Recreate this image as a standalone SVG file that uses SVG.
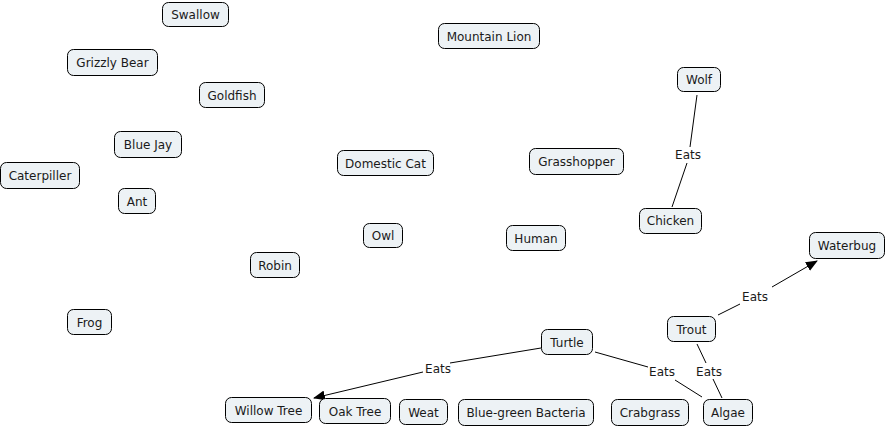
<svg xmlns="http://www.w3.org/2000/svg" width="886" height="429" viewBox="0 0 886 429">
<style>
.n rect{fill:#edf2f5;stroke:#000;stroke-width:1}
text{font-family:"DejaVu Sans",Verdana,sans-serif;font-size:12px;fill:#1a1a1a;text-anchor:middle}
.c line{stroke:#000;stroke-width:1}
</style>
<defs>
<marker id="ah" markerUnits="userSpaceOnUse" markerWidth="12" markerHeight="10" refX="11" refY="5" orient="auto">
<path d="M0,0 L12,5 L0,10 Z" fill="#000"/>
</marker>
</defs>
<rect width="886" height="429" fill="#fff"/>
<g id="connectors" class="c">
<line x1="697" y1="95" x2="690" y2="147"/>
<line x1="687" y1="163" x2="672" y2="207"/>
<text x="688" y="159">Eats</text>
<line x1="718" y1="315" x2="740" y2="304"/>
<line x1="772" y1="287" x2="817" y2="261" marker-end="url(#ah)"/>
<text x="755" y="301">Eats</text>
<line x1="595" y1="352" x2="648" y2="367"/>
<line x1="675" y1="380" x2="702" y2="397"/>
<text x="662" y="376">Eats</text>
<line x1="697" y1="344" x2="706" y2="363"/>
<line x1="713" y1="379" x2="722" y2="398"/>
<text x="709" y="376">Eats</text>
<line x1="541" y1="348" x2="450" y2="363"/>
<line x1="423" y1="372" x2="314" y2="398" marker-end="url(#ah)"/>
<text x="438" y="373">Eats</text>
</g>
<g id="swallow" class="n"><rect x="162.5" y="2.5" width="66" height="24" rx="6"/><text x="195.5" y="19">Swallow</text></g>
<g id="grizzly-bear" class="n"><rect x="67.5" y="49.5" width="90" height="26" rx="6"/><text x="112.5" y="67">Grizzly Bear</text></g>
<g id="goldfish" class="n"><rect x="199.5" y="82.5" width="65" height="25" rx="6"/><text x="232" y="99.5">Goldfish</text></g>
<g id="blue-jay" class="n"><rect x="114.5" y="131.5" width="67" height="26" rx="6"/><text x="148" y="149">Blue Jay</text></g>
<g id="caterpiller" class="n"><rect x="0.5" y="162.5" width="79" height="26" rx="6"/><text x="40" y="180">Caterpiller</text></g>
<g id="ant" class="n"><rect x="118.5" y="188.5" width="37" height="25" rx="6"/><text x="137" y="206">Ant</text></g>
<g id="mountain-lion" class="n"><rect x="438.5" y="23.5" width="101" height="25" rx="6"/><text x="489" y="41">Mountain Lion</text></g>
<g id="wolf" class="n"><rect x="677.5" y="67.5" width="43" height="24" rx="6"/><text x="699" y="84">Wolf</text></g>
<g id="domestic-cat" class="n"><rect x="337.5" y="150.5" width="96" height="25" rx="6"/><text x="385.5" y="168">Domestic Cat</text></g>
<g id="grasshopper" class="n"><rect x="529.5" y="148.5" width="94" height="26" rx="6"/><text x="576.5" y="166">Grasshopper</text></g>
<g id="chicken" class="n"><rect x="639.5" y="208.5" width="62" height="25" rx="6"/><text x="670.5" y="225">Chicken</text></g>
<g id="owl" class="n"><rect x="363.5" y="223.5" width="39" height="24" rx="6"/><text x="383" y="240">Owl</text></g>
<g id="human" class="n"><rect x="506.5" y="225.5" width="59" height="25" rx="6"/><text x="536" y="242.5">Human</text></g>
<g id="robin" class="n"><rect x="250.5" y="252.5" width="49" height="25" rx="6"/><text x="275" y="269.5">Robin</text></g>
<g id="waterbug" class="n"><rect x="809.5" y="232.5" width="75" height="26" rx="6"/><text x="847" y="250">Waterbug</text></g>
<g id="frog" class="n"><rect x="67.5" y="309.5" width="44" height="25" rx="6"/><text x="89.5" y="326.5">Frog</text></g>
<g id="trout" class="n"><rect x="667.5" y="316.5" width="48" height="25" rx="6"/><text x="691.5" y="333.5">Trout</text></g>
<g id="turtle" class="n"><rect x="541.5" y="329.5" width="51" height="25" rx="6"/><text x="567" y="346.5">Turtle</text></g>
<g id="willow-tree" class="n"><rect x="225.5" y="397.5" width="86" height="25" rx="6"/><text x="268.5" y="414.5">Willow Tree</text></g>
<g id="oak-tree" class="n"><rect x="319.5" y="398.5" width="71" height="25" rx="6"/><text x="355" y="415.5">Oak Tree</text></g>
<g id="weat" class="n"><rect x="399.5" y="399.5" width="48" height="25" rx="6"/><text x="423.5" y="416.5">Weat</text></g>
<g id="blue-green-bacteria" class="n"><rect x="458.5" y="399.5" width="135" height="26" rx="6"/><text x="526" y="417">Blue-green Bacteria</text></g>
<g id="crabgrass" class="n"><rect x="611.5" y="399.5" width="77" height="26" rx="6"/><text x="650" y="417">Crabgrass</text></g>
<g id="algae" class="n"><rect x="703.5" y="399.5" width="49" height="26" rx="6"/><text x="728" y="417">Algae</text></g>
</svg>
